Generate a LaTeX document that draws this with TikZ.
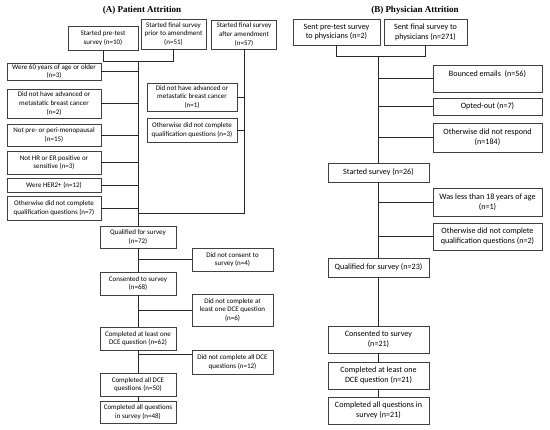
\documentclass[tikz,border=0pt]{standalone}
\usepackage{fontspec}
\setmainfont{Carlito}
\newfontfamily\titlefont{Liberation Serif}
\newcommand{\smA}{\fontsize{7}{8.6}\selectfont}
\newcommand{\smB}{\fontsize{8.1}{9.9}\selectfont}
\begin{document}
\begin{tikzpicture}[x=1pt,y=-1pt,
  bx/.style={draw=black!75, line width=0.8pt, inner sep=0pt, align=center, font=\smA, fill=white},
  bxb/.style={bx, font=\smB},
  ln/.style={line width=0.8pt, black!85},
  ttl/.style={font=\titlefont\bfseries\fontsize{9}{10}\selectfont}]
\useasboundingbox[fill=white] (0,0) rectangle (550,430);

% ---------- (A) ----------
\node[ttl] (ta) at (142,10) {(A) Patient Attrition};
\node[bx, minimum width=70, minimum height=24] (p1) at (103,38) {Started pre-test\\survey (n=10)};
\node[bx, minimum width=65, minimum height=30] (p2) at (173.5,34) {Started final survey\\prior to amendment\\(n=51)};
\node[bx, minimum width=65, minimum height=29] (p3) at (244,34.5) {Started final survey\\after amendment\\(n=57)};

\node[bx, minimum width=94, minimum height=17] (e1) at (54,71.5) {Were 60 years of age or older\\(n=3)};
\node[bx, minimum width=94, minimum height=29] (e2) at (54,103.5) {Did not have advanced or\\metastatic breast cancer\\(n=2)};
\node[bx, minimum width=94, minimum height=22] (e3) at (54,135) {Not pre- or peri-menopausal\\(n=15)};
\node[bx, minimum width=94, minimum height=23] (e4) at (54,162.5) {Not HR or ER positive or\\sensitive (n=3)};
\node[bx, minimum width=94, minimum height=14] (e5) at (54,185) {Were HER2+ (n=12)};
\node[bx, minimum width=94, minimum height=24] (e6) at (54,208) {Otherwise did not complete\\qualification questions (n=7)};

\node[bx, minimum width=90, minimum height=28] (r1) at (192,97) {Did not have advanced or\\metastatic breast cancer\\(n=1)};
\node[bx, minimum width=90, minimum height=24] (r2) at (192,130) {Otherwise did not complete\\qualification questions (n=3)};

\node[bx, minimum width=76, minimum height=22] (q) at (138,237) {Qualified for survey\\(n=72)};
\node[bx, minimum width=76, minimum height=23] (c) at (138,283.5) {Consented to survey\\(n=68)};
\node[bx, minimum width=76, minimum height=23] (d1) at (138,338.5) {Completed at least one\\DCE question (n=62)};
\node[bx, minimum width=76, minimum height=23] (d2) at (138,384.5) {Completed all DCE\\questions (n=50)};
\node[bx, minimum width=76, minimum height=22] (d3) at (138,412) {Completed all questions\\in survey (n=48)};

\node[bx, minimum width=81, minimum height=23] (s1) at (232.5,259.5) {Did not consent to\\survey (n=4)};
\node[bx, minimum width=81, minimum height=32] (s2) at (232.5,310) {Did not complete at\\least one DCE question\\(n=6)};
\node[bx, minimum width=81, minimum height=24] (s3) at (232.5,362) {Did not complete all DCE\\questions (n=12)};

\coordinate (ja) at (138,61);
\coordinate (jb) at (244,213);
\coordinate (k3) at (138,354);
\draw[ln] (p1.south) -- (p1.south |- ja) -- (p2.south |- ja) -- (p2.south);
\draw[ln] (ja) -- (q.north);
\draw[ln] (p3.south) -- (jb) -- (jb -| ja);
\foreach \n in {e1,e2,e3,e4,e5,e6} \draw[ln] (\n.east) -- (\n.east -| ja);
\foreach \n in {r1,r2} \draw[ln] (\n.east) -- (\n.east -| jb);
\draw[ln] (q.south) -- (c.north);
\draw[ln] (c.south) -- (d1.north);
\draw[ln] (d1.south) -- (d2.north);
\draw[ln] (d2.south) -- (d3.north);
\draw[ln] (s1.west -| q.south) -- (s1.west);
\draw[ln] (s2.west -| q.south) -- (s2.west);
\draw[ln] (k3) -- (k3 -| s3.west);

% ---------- (B) ----------
\node[ttl] (tb) at (415,10) {(B) Physician Attrition};
\node[bxb, minimum width=87, minimum height=26] (b1) at (336.5,32) {Sent pre-test survey\\to physicians (n=2)};
\node[bxb, minimum width=83, minimum height=26] (b2) at (425.5,32) {Sent final survey to\\physicians (n=271)};

\node[bxb, minimum width=109, minimum height=27] (o1) at (487.5,78.5) {Bounced emails\ \ (n=56)\\ ~};
\node[bxb, minimum width=109, minimum height=17] (o2) at (487.5,106.5) {Opted-out (n=7)};
\node[bxb, minimum width=109, minimum height=29] (o3) at (487.5,137.5) {Otherwise did not respond\\(n=184)};
\node[bxb, minimum width=101, minimum height=19] (ss) at (378.5,172.5) {Started survey (n=26)};
\node[bxb, minimum width=109, minimum height=28] (o4) at (487.5,202) {Was less than 18 years of age\\(n=1)};
\node[bxb, minimum width=109, minimum height=27] (o5) at (487.5,236.5) {Otherwise did not complete\\qualification questions (n=2)};
\node[bxb, minimum width=101, minimum height=19] (qs) at (378.5,267.5) {Qualified for survey (n=23)};
\node[bxb, minimum width=101, minimum height=27] (cs) at (378.5,339.5) {Consented to survey\\(n=21)};
\node[bxb, minimum width=101, minimum height=27] (d1s) at (378.5,375.5) {Completed at least one\\DCE question (n=21)};
\node[bxb, minimum width=101, minimum height=27] (d3s) at (378.5,410.5) {Completed all questions in\\survey (n=21)};

\coordinate (jc) at (378.5,56);
\draw[ln] (b1.south) -- (b1.south |- jc) -- (b2.south |- jc) -- (b2.south);
\draw[ln] (jc) -- (ss.north);
\foreach \n in {o1,o2,o3} \draw[ln] (\n.west -| jc) -- (\n.west);
\foreach \n in {o4,o5} \draw[ln] (\n.west -| ss.south) -- (\n.west);
\draw[ln] (ss.south) -- (qs.north);
\draw[ln] (qs.south) -- (cs.north);
\draw[ln] (cs.south) -- (d1s.north);
\draw[ln] (d1s.south) -- (d3s.north);
\end{tikzpicture}
\end{document}
